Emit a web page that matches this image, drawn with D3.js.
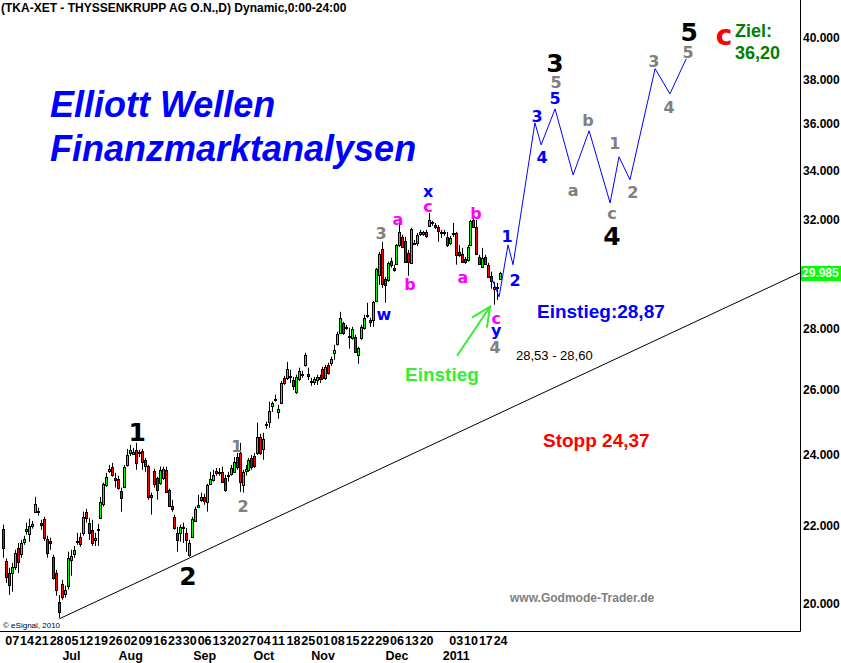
<!DOCTYPE html>
<html>
<head>
<meta charset="utf-8">
<script src="https://cdn.jsdelivr.net/npm/d3@7"></script>
<style>
body { margin: 0; background: #fff; }
svg { display: block; }
</style>
</head>
<body>
<svg id="chart" width="841" height="663"></svg>
<script>
var width = 841;
var height = 663;
var plotRight = 800;  // the price axis line
var plotBottom = 631; // the date axis line

// daily candles from 04.06.2010 to 26.01.2011: [open, high, low, close]
var candles = [
	[21.93,22.04,21.16,21.42],[21.08,21.14,20.52,20.67],[20.77,20.90,20.22,20.47],[20.77,21.03,20.30,20.93],
	[20.93,21.37,20.85,21.29],[21.42,21.55,20.77,21.06],[21.27,21.63,21.16,21.55],[21.58,21.74,21.50,21.66],
	[21.87,22.09,21.77,21.93],[21.79,22.20,21.58,22.01],[22.01,22.14,21.93,22.06],[22.39,22.80,22.36,22.61],
	[22.39,22.50,22.28,22.41],[22.09,22.17,21.90,22.04],[22.20,22.25,21.60,21.69],[21.66,21.74,21.16,21.29],
	[21.60,21.69,21.37,21.55],[21.19,21.24,20.60,20.65],[20.77,20.85,20.20,20.35],[20.05,20.22,19.66,19.81],
	[20.50,20.60,20.10,20.18],[20.25,20.45,20.15,20.35],[20.45,21.32,20.35,21.16],[21.11,21.37,20.70,21.21],
	[21.27,21.47,21.16,21.37],[21.58,21.82,21.50,21.60],[21.71,21.82,21.45,21.53],[21.82,22.39,21.74,22.25],
	[22.39,22.47,22.09,22.22],[22.09,22.22,21.63,21.82],[21.90,22.17,21.47,21.55],[21.63,21.82,21.47,21.69],
	[21.90,22.06,21.47,21.93],[22.22,22.80,22.20,22.66],[22.61,23.20,22.53,23.17],[23.14,23.48,23.08,23.37],
	[23.54,23.71,23.48,23.60],[23.66,23.77,23.37,23.42],[23.34,23.48,23.06,23.28],[23.31,23.40,23.00,23.06],
	[22.97,23.06,22.39,22.78],[23.08,23.71,23.05,23.66],[23.71,24.18,23.66,24.00],[24.06,24.30,23.97,24.15],
	[24.03,24.21,24.00,24.09],[24.15,24.36,23.57,23.77],[24.06,24.15,23.94,24.09],[24.12,24.18,23.57,23.80],
	[23.86,23.91,23.51,23.68],[23.68,23.71,22.72,22.80],[22.86,22.92,22.31,22.80],[23.54,23.60,23.06,23.17],
	[23.34,23.37,22.72,23.00],[23.20,23.66,23.14,23.57],[23.34,23.66,23.28,23.60],[23.57,23.66,22.92,22.94],
	[23.00,23.03,22.53,22.55],[22.55,22.72,22.39,22.47],[22.25,22.31,21.90,21.95],[21.82,21.98,21.32,21.63],
	[21.82,22.04,21.58,21.98],[21.98,22.09,21.55,21.95],[21.82,21.95,21.32,21.63],[21.24,21.63,21.19,21.55],
	[21.71,22.25,21.69,22.20],[22.14,22.53,22.12,22.47],[22.53,22.86,22.50,22.58],[22.72,22.92,22.66,22.80],
	[22.80,22.89,22.58,22.69],[22.66,23.17,22.39,23.14],[23.17,23.51,23.14,23.31],[23.28,23.57,23.23,23.42],
	[23.54,23.62,23.40,23.48],[23.48,23.62,23.40,23.51],[23.51,23.66,23.20,23.23],[23.34,23.42,22.94,23.00],
	[23.40,23.51,23.23,23.42],[23.45,23.71,23.40,23.62],[23.51,23.94,23.48,23.80],[23.94,24.06,23.57,23.66],
	[24.06,24.36,22.94,23.23],[23.14,23.57,22.92,23.51],[23.54,23.71,23.40,23.60],[23.57,23.91,23.51,23.86],
	[23.91,24.00,23.57,23.66],[23.97,24.06,23.62,23.68],[24.06,24.97,24.00,24.54],[24.54,24.63,24.00,24.06],
	[24.18,24.66,23.86,24.48],[24.91,25.00,24.78,24.94],[25.00,25.62,24.81,25.33],[25.49,25.62,25.30,25.58],
	[25.68,25.84,25.62,25.71],[25.30,25.52,25.09,25.39],[25.58,26.28,25.55,26.21],[26.38,26.44,26.15,26.21],
	[26.38,26.90,26.31,26.67],[26.41,26.64,26.21,26.44],[26.31,26.41,25.99,26.12],[25.93,26.48,25.86,26.41],
	[26.34,26.71,26.28,26.61],[26.48,26.61,26.38,26.51],[26.80,27.20,26.74,27.14],[26.51,26.71,26.31,26.44],
	[26.28,26.38,26.12,26.25],[26.25,26.41,26.15,26.34],[26.31,26.48,26.15,26.41],[26.41,26.48,26.21,26.34],
	[26.67,26.74,26.31,26.38],[26.38,26.80,26.31,26.74],[26.80,26.87,26.48,26.54],[26.87,27.07,26.77,27.00],
	[27.20,27.47,26.97,27.30],[27.50,27.91,27.44,27.84],[27.88,28.60,27.84,28.39],[28.22,28.25,27.81,27.88],
	[28.05,28.15,27.98,28.08],[27.78,28.05,27.34,27.74],[27.71,28.08,27.64,28.01],[27.74,27.81,27.20,27.24],
	[27.14,27.40,26.84,27.37],[27.71,28.15,27.64,28.08],[28.05,28.50,27.98,28.39],[28.46,28.92,28.39,28.50],
	[28.32,28.39,28.08,28.25],[28.32,28.99,28.08,28.95],[28.99,30.18,28.95,30.15],[29.92,30.78,29.56,30.70],
	[30.89,31.16,29.45,29.59],[29.78,29.85,28.92,29.56],[29.74,30.41,29.67,30.37],[30.44,30.56,30.19,30.30],
	[30.19,30.30,30.04,30.11],[30.33,31.08,30.30,31.04],[31.04,31.89,30.96,31.54],[31.35,31.43,30.93,30.96],
	[31.19,31.35,30.37,30.41],[30.74,30.85,29.89,30.41],[30.37,31.70,30.33,31.66],[31.08,31.23,31.04,31.12],
	[31.12,31.50,31.00,31.43],[31.46,31.62,31.39,31.54],[31.46,31.58,31.39,31.54],[31.54,31.62,31.31,31.39],
	[31.78,32.28,31.74,32.01],[31.93,31.97,31.78,31.89],[31.81,31.89,31.66,31.74],[31.74,31.81,31.16,31.58],
	[31.54,31.62,31.31,31.50],[31.50,31.62,31.39,31.54],[31.35,31.54,30.96,31.04],[31.12,31.39,31.04,31.31],
	[31.46,31.89,31.35,31.50],[31.50,31.54,30.30,30.67],[30.78,31.04,30.59,30.67],[30.70,30.93,30.37,30.41],
	[30.52,30.59,30.33,30.41],[30.48,31.04,30.41,30.96],[31.04,32.01,31.00,31.97],[32.01,32.05,31.70,31.74],
	[31.74,32.01,30.67,30.70],[30.59,30.67,30.30,30.33],[30.22,30.93,30.19,30.56],[30.59,30.67,30.30,30.33],
	[30.30,30.37,29.82,29.85],[29.89,30.04,29.42,29.71],[29.49,29.67,28.85,29.42],[29.45,29.63,29.02,29.49],
	[29.78,30.04,29.74,29.985]
];
var lastPrice = 29.985;

// monday labels, one per week (27 Dec has no label in the original)
var weekLabels = ["07","14","21","28","05","12","19","26","02","09","16","23","30","06","13","20","27",
	"04","11","18","25","01","08","15","22","29","06","13","20","","03","10","17","24"];
var monthNames = ["Jul","Aug","Sep","Oct","Nov","Dec","2011"];
var monthWeeks = [4, 8, 13, 17, 21, 26, 30];
var yTicks = [20, 22, 24, 26, 28, 30, 32, 34, 36, 38, 40];

// support line [day index, price]
var trendLine = [[19, 19.64], [269.2, 30.0]];
// projected wave path [day index, price]
var projection = [[164.8,29.86],[167.5,29.13],[170.5,31.04],[172.2,30.30],[179.6,36.05],[181.7,35.09],
	[186.4,36.67],[192.5,33.82],[197.9,35.70],[205.0,32.68],[208.0,34.58],[211.7,33.62],
	[220.2,38.52],[225.2,37.35],[230.7,38.99]];
// green arrow to the entry [day index, price]
var arrow = [[153.3, 27.10], [164.4, 28.78]];

// wave counts [text, day index, price]
var bigLabels = [["1",45.2,24.69],["2",62.4,20.70],["3",186.4,38.80],["4",205.6,31.39],["5",231.7,40.29]];
var grayLabels = [["1",78.9,24.27],["2",81.0,22.55],["3",127.6,31.50],["4",166.1,27.40],["5",186.7,37.90],
	["a",192.5,33.21],["b",197.5,36.18],["c",205.6,32.28],["1",206.6,35.14],["2",212.7,33.13],
	["3",219.8,38.89],["4",224.9,36.76],["5",231.3,39.32]];
var blueLabels = [["1",170.2,31.39],["2",172.9,29.74],["3",180.3,36.36],["4",182.0,34.58],["5",186.4,37.16],
	["w",128.6,28.50],["x",143.5,33.17],["y",166.5,27.95]];
var pinkLabels = [["a",133.3,32.05],["b",137.4,29.60],["c",143.5,32.56],["a",155.3,29.82],["b",159.7,32.28],["c",166.5,28.39]];
var redLabels = [["c",243.5,40.15]];

var sans = "'Liberation Sans', Arial, sans-serif";
var heavy = "'DejaVu Sans', Verdana, sans-serif";

var x = d3.scaleLinear().domain([0, 168]).range([3.3, 500.6]);
var y = d3.scaleLog().domain([19.37, 41.9]).range([630, 0]);

var svg = d3.select("#chart")
	.attr("width", width)
	.attr("height", height)
	.style("background", "#fff");

// frame
svg.append("line").attr("x1", plotRight + 0.5).attr("x2", plotRight + 0.5).attr("y1", 0).attr("y2", plotBottom + 0.5)
	.attr("stroke", "#000");
svg.append("line").attr("x1", 0).attr("x2", plotRight + 0.5).attr("y1", plotBottom + 0.5).attr("y2", plotBottom + 0.5)
	.attr("stroke", "#000");

// price axis
var yAxis = svg.append("g")
	.attr("transform", "translate(" + plotRight + ",0)")
	.call(d3.axisRight(y).tickValues(yTicks).tickSize(0).tickPadding(3).tickFormat(d3.format(".3f")));
yAxis.select(".domain").remove();
yAxis.selectAll("text")
	.style("font-family", sans).style("font-size", "12px").style("font-weight", "bold").attr("fill", "#000");

// last price box
svg.append("rect")
	.attr("x", plotRight + 1).attr("y", Math.round(y(lastPrice)) - 7)
	.attr("width", 40).attr("height", 15).attr("fill", "#00ff00");
svg.append("text")
	.attr("x", plotRight + 2).attr("y", y(lastPrice)).attr("dy", "0.35em")
	.style("font-family", sans).style("font-size", "12px").style("font-weight", "bold")
	.attr("fill", "#fff").text(d3.format(".3f")(lastPrice));

// date axis
svg.append("g").selectAll("text")
	.data(weekLabels)
	.join("text")
	.attr("x", function (d, i) { return x(1 + 5 * i) - 1; })
	.attr("y", 645)
	.style("font-family", sans).style("font-size", "12.5px").style("font-weight", "bold")
	.text(function (d) { return d; });

svg.append("g").selectAll("text")
	.data(monthNames)
	.join("text")
	.attr("x", function (d, i) { return x(1 + 5 * monthWeeks[i]) + 6; })
	.attr("y", 660)
	.attr("text-anchor", "middle")
	.style("font-family", sans).style("font-size", "12.5px").style("font-weight", "bold")
	.text(function (d) { return d; });

// support line
svg.append("line")
	.attr("x1", x(trendLine[0][0])).attr("y1", y(trendLine[0][1]))
	.attr("x2", x(trendLine[1][0])).attr("y2", y(trendLine[1][1]))
	.attr("stroke", "#000").attr("stroke-width", 1);

// candles
var gc = svg.append("g");
gc.selectAll("line")
	.data(candles)
	.join("line")
	.attr("x1", function (d, i) { return Math.floor(x(i)) + 0.5; })
	.attr("x2", function (d, i) { return Math.floor(x(i)) + 0.5; })
	.attr("y1", function (d) { return y(d[1]); })
	.attr("y2", function (d) { return y(d[2]); })
	.attr("stroke", "#000").attr("stroke-width", 1);

gc.selectAll("rect")
	.data(candles)
	.join("rect")
	.attr("x", function (d, i) { return Math.floor(x(i)) - 0.5; })
	.attr("y", function (d) { return Math.round(y(Math.max(d[0], d[3]))) + 0.5; })
	.attr("width", 2)
	.attr("height", function (d) {
		var h = Math.round(y(Math.min(d[0], d[3]))) - Math.round(y(Math.max(d[0], d[3])));
		return Math.max(1, h);
	})
	.attr("fill", function (d) { return d[3] >= d[0] ? "#00ff00" : "#ff0000"; })
	.attr("stroke", "#000").attr("stroke-width", 1);

// projected path
svg.append("path")
	.datum(projection)
	.attr("d", d3.line().x(function (d) { return x(d[0]); }).y(function (d) { return y(d[1]); }))
	.attr("fill", "none").attr("stroke", "#0000ff").attr("stroke-width", 1);

// green arrow
var tipX = x(arrow[1][0]), tipY = y(arrow[1][1]);
svg.append("line")
	.attr("x1", x(arrow[0][0])).attr("y1", y(arrow[0][1])).attr("x2", tipX).attr("y2", tipY)
	.attr("stroke", "#33ee33").attr("stroke-width", 2);
svg.append("path")
	.attr("d", "M" + (tipX - 18) + "," + (tipY + 11) + "L" + tipX + "," + tipY + "L" + (tipX - 3) + "," + (tipY + 21))
	.attr("fill", "none").attr("stroke", "#33ee33").attr("stroke-width", 2);

// wave labels
function waveLabels(list, color, size) {
	svg.append("g").selectAll("text")
		.data(list)
		.join("text")
		.attr("x", function (d) { return x(d[1]); })
		.attr("y", function (d) { return y(d[2]); })
		.attr("dy", "0.36em")
		.attr("text-anchor", "middle")
		.style("font-family", heavy).style("font-weight", "bold").style("font-size", size + "px")
		.attr("fill", color)
		.text(function (d) { return d[0]; });
}
waveLabels(bigLabels, "#000", 25);
waveLabels(grayLabels, "#808080", 16);
waveLabels(blueLabels, "#0000ff", 16);
waveLabels(pinkLabels, "#ff00ff", 16);
waveLabels(redLabels, "#ff0000", 28);

// texts
function label(t, px, py, size, weight, color, style) {
	svg.append("text")
		.attr("x", px).attr("y", py)
		.style("font-family", sans).style("font-size", size + "px")
		.style("font-weight", weight).style("font-style", style || "normal")
		.attr("fill", color)
		.text(t);
}
label("(TKA-XET - THYSSENKRUPP AG O.N.,D) Dynamic,0:00-24:00", 1, 12, 12, "bold", "#000");
label("Elliott Wellen", 50, 117, 36, "bold", "#0000ff", "italic");
label("Finanzmarktanalysen", 50, 161, 36, "bold", "#0000ff", "italic");
label("Einstieg:28,87", 537, 318, 19, "bold", "#0000ff");
label("28,53 - 28,60", 516, 360, 13, "normal", "#000");
label("Einstieg", 405, 381, 19, "bold", "#33ee33");
label("Stopp 24,37", 543, 447, 19, "bold", "#ff0000");
label("Ziel:", 735, 37, 18, "bold", "#008000");
label("36,20", 735, 59, 18, "bold", "#008000");
label("www.Godmode-Trader.de", 510, 602, 12, "bold", "#808080");
label("\u00a9 eSignal, 2010", 3, 628, 8, "normal", "#000");
</script>
</body>
</html>
